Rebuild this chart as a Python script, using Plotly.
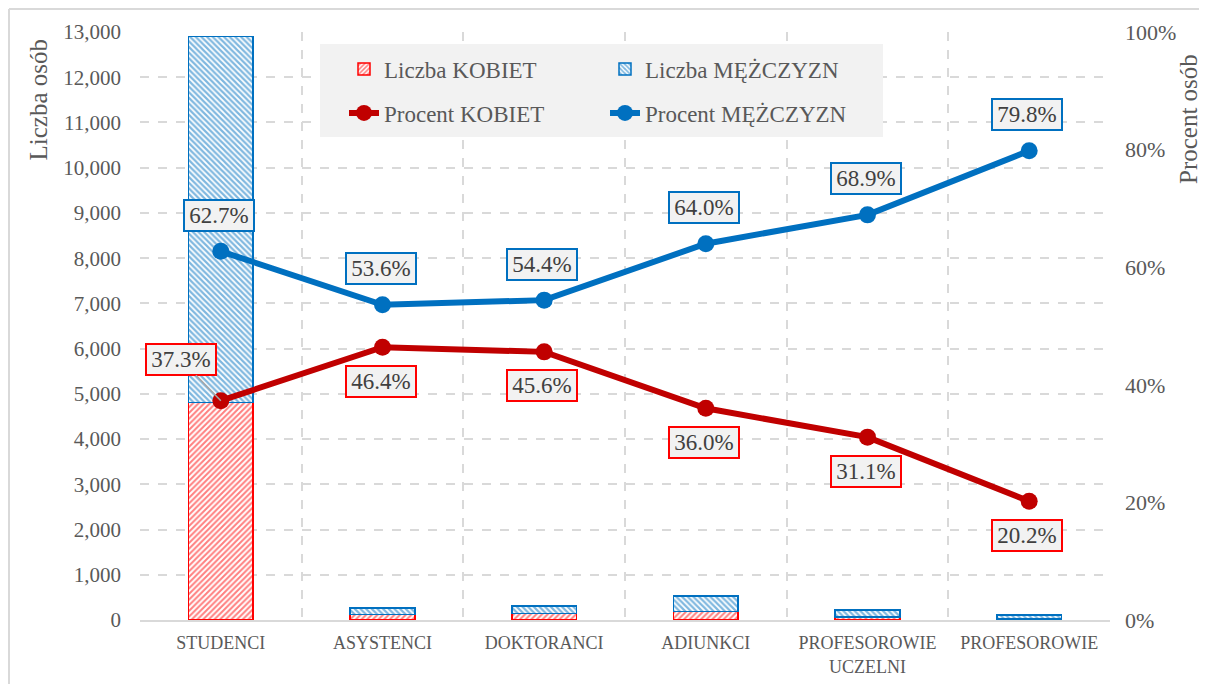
import plotly.graph_objects as go

categories = ["STUDENCI", "ASYSTENCI", "DOKTORANCI", "ADIUNKCI", "PROFESOROWIE<br>UCZELNI", "PROFESOROWIE"]
women_count = [4810, 121, 141, 191, 68, 22]
men_count = [8090, 139, 169, 339, 152, 88]
women_pct = [37.3, 46.4, 45.6, 36.0, 31.1, 20.2]
men_pct = [62.7, 53.6, 54.4, 64.0, 68.9, 79.8]
left_ticks = list(range(0, 13001, 1000))

FONT = "Liberation Serif"
RED_BAR = "#FF0000"
RED_LINE = "#C00000"
BLUE = "#0070C0"
GRAY_TXT = "#595959"
GRID = "#D9D9D9"

OFF = 8  # page body margin
W, H = 1199, 676
# desired page coords: plot left 140, right 1110, top 32, bottom 620
L = 140 - OFF
T = 32 - OFF
R = W - (1110 - OFF)
B = H - (620 - OFF)
PW, PH = W - L - R, H - T - B

def px_x(p):
    return (p - OFF - L) / PW

def px_y(p):
    return (H - B - (p - OFF)) / PH

fig = go.Figure()
fig.add_trace(go.Bar(
    x=categories, y=women_count, name="Liczba KOBIET", width=0.4,
    marker=dict(color="white", line=dict(color=RED_BAR, width=1.5),
                pattern=dict(shape="/", fgcolor=RED_BAR, bgcolor="white", size=4, solidity=0.5)),
    legend="legend",
))
fig.add_trace(go.Bar(
    x=categories, y=men_count, name="Liczba MĘŻCZYZN", width=0.4,
    marker=dict(color="white", line=dict(color=BLUE, width=1.5),
                pattern=dict(shape="\\", fgcolor=BLUE, bgcolor="white", size=4, solidity=0.55)),
    legend="legend",
))
fig.add_trace(go.Scatter(
    x=categories, y=[v / 100 for v in women_pct], name="Procent KOBIET", yaxis="y2",
    mode="lines+markers", line=dict(color=RED_LINE, width=6),
    marker=dict(color=RED_LINE, size=17), legend="legend2",
))
fig.add_trace(go.Scatter(
    x=categories, y=[v / 100 for v in men_pct], name="Procent MĘŻCZYZN", yaxis="y2",
    mode="lines+markers", line=dict(color=BLUE, width=6),
    marker=dict(color=BLUE, size=17), legend="legend2",
))

LBL_FONT = dict(family=FONT, size=23, color="#404040")
BOX = dict(width=64, height=25, borderwidth=2, borderpad=2, bgcolor="#F2F2F2")
annotations = []
for i, (c, v) in enumerate(zip(categories, men_pct)):
    annotations.append(dict(
        x=c, y=v / 100, xref="x", yref="y2", text=f"{v:.1f}%", showarrow=False,
        yshift=36, xshift=-2, font=LBL_FONT, bordercolor=BLUE, **BOX,
    ))
for i, (c, v) in enumerate(zip(categories, women_pct)):
    if i == 0:
        annotations.append(dict(
            x=c, y=v / 100, xref="x", yref="y2", text=f"{v:.1f}%", showarrow=True,
            arrowhead=0, arrowcolor="#A6A6A6", arrowwidth=1.5, ax=-40, ay=-41,
            font=LBL_FONT, bordercolor=RED_BAR, **BOX,
        ))
    else:
        annotations.append(dict(
            x=c, y=v / 100, xref="x", yref="y2", text=f"{v:.1f}%", showarrow=False,
            yshift=-34, xshift=-2, font=LBL_FONT, bordercolor=RED_BAR, **BOX,
        ))

annotations.append(dict(
    x=px_x(38), y=px_y(38), xref="paper", yref="paper", text="Liczba osób",
    textangle=-90, showarrow=False, xanchor="center", yanchor="top",
    font=dict(family=FONT, size=25, color=GRAY_TXT),
))
annotations.append(dict(
    x=px_x(1188), y=px_y(52), xref="paper", yref="paper", text="Procent osób",
    textangle=-90, showarrow=False, xanchor="center", yanchor="top",
    font=dict(family=FONT, size=25, color=GRAY_TXT),
))

shapes = [
    dict(type="rect", xref="paper", yref="paper", x0=px_x(320), x1=px_x(883),
         y0=px_y(137), y1=px_y(44), fillcolor="#F2F2F2", line=dict(width=0), layer="above"),
    dict(type="line", xref="paper", yref="paper", x0=px_x(9), x1=px_x(9),
         y0=px_y(9), y1=px_y(700), line=dict(color=GRID, width=2)),
    dict(type="line", xref="paper", yref="paper", x0=px_x(9), x1=px_x(1220),
         y0=px_y(9), y1=px_y(9), line=dict(color=GRID, width=2)),
]

legend_common = dict(
    orientation="h", bgcolor="rgba(0,0,0,0)", font=dict(family=FONT, size=23, color=GRAY_TXT),
    entrywidth=216, xanchor="left", yanchor="middle", itemclick=False, traceorder="normal",
)

fig.update_layout(
    width=W, height=H, barmode="stack",
    margin=dict(l=L, r=R, t=T, b=B),
    plot_bgcolor="white", paper_bgcolor="white",
    font=dict(family=FONT, color=GRAY_TXT),
    legend=dict(x=px_x(344), y=px_y(69), **legend_common),
    legend2=dict(x=px_x(344), y=px_y(113), **legend_common),
    xaxis=dict(
        tickson="boundaries", showgrid=True, gridcolor=GRID, griddash="dash", gridwidth=1.5,
        showline=True, linecolor=GRID, linewidth=1.5, ticks="", ticklabelstandoff=6,
        automargin=False, tickfont=dict(family=FONT, size=18, color=GRAY_TXT),
    ),
    yaxis=dict(
        range=[0, 13000], tickvals=left_ticks, tickformat=",", showgrid=True,
        gridcolor=GRID, griddash="dash", gridwidth=1.5, zeroline=False, automargin=False,
        ticks="", ticklabelstandoff=18, tickfont=dict(family=FONT, size=21, color=GRAY_TXT),
    ),
    yaxis2=dict(
        range=[0, 1], dtick=0.2, tickformat=".0%", overlaying="y", side="right",
        showgrid=False, zeroline=False, ticks="", ticklabelstandoff=14, automargin=False,
        tickfont=dict(family=FONT, size=22, color=GRAY_TXT),
    ),
    annotations=annotations, shapes=shapes,
)

fig.write_html("out.html")
